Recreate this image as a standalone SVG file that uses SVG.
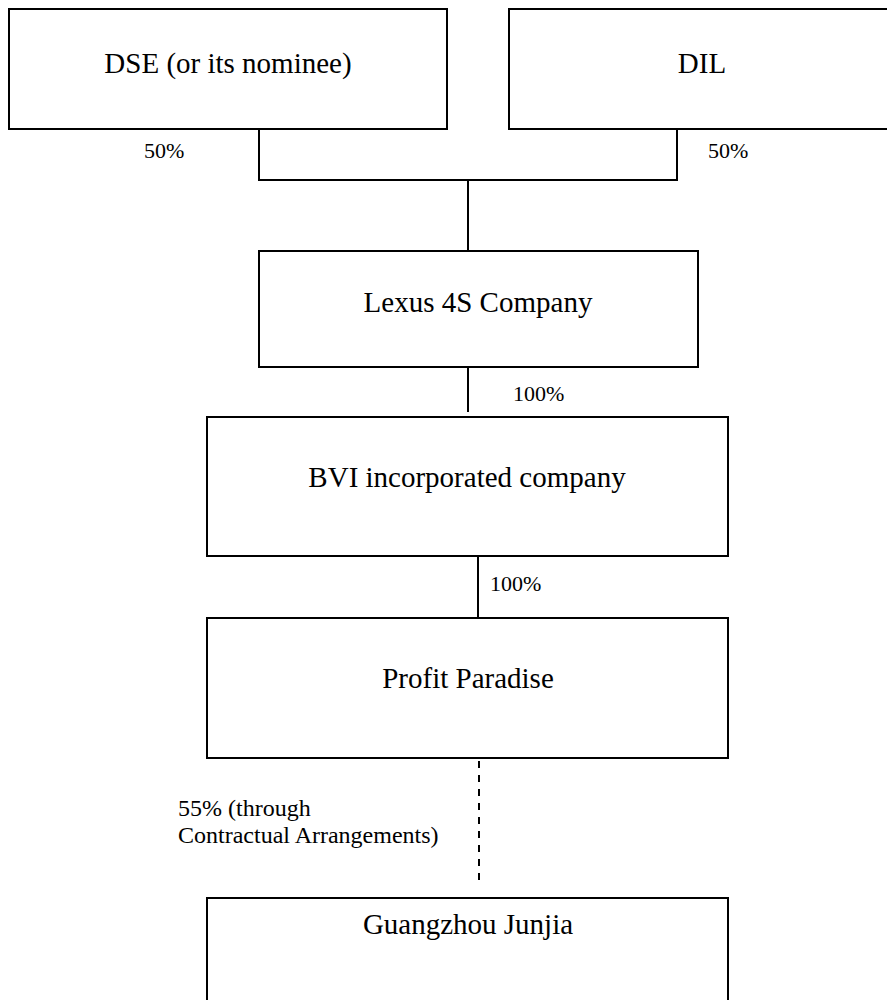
<svg xmlns="http://www.w3.org/2000/svg" width="887" height="1000" viewBox="0 0 887 1000">
<style>
.box{fill:#fff;stroke:#000;stroke-width:2}
.ln{fill:none;stroke:#000;stroke-width:2}
.dash{fill:none;stroke:#000;stroke-width:2;stroke-dasharray:7 7}
.t{font-family:"Liberation Serif","Times New Roman",serif;font-size:29px;fill:#000;text-anchor:middle}
.p{font-family:"Liberation Serif","Times New Roman",serif;font-size:22px;fill:#000}
.c{font-family:"Liberation Serif","Times New Roman",serif;font-size:24px;fill:#000}
</style>
<rect width="887" height="1000" fill="#fff"/>
<g id="connectors">
<polyline class="ln" points="259,129 259,180 677,180 677,129"/>
<line class="ln" x1="468" y1="180" x2="468" y2="251"/>
<line class="ln" x1="468" y1="367" x2="468" y2="412"/>
<line class="ln" x1="478" y1="556" x2="478" y2="618"/>
<line class="dash" x1="479" y1="761" x2="479" y2="881"/>
<text class="p" x="144" y="158">50%</text>
<text class="p" x="708" y="158">50%</text>
<text class="p" x="513" y="401">100%</text>
<text class="p" x="490" y="591">100%</text>
<text class="c" x="178" y="816">55% (through</text>
<text class="c" x="178" y="843">Contractual Arrangements)</text>
</g>
<g id="dse">
<rect class="box" x="9" y="9" width="438" height="120"/>
<text class="t" x="228" y="73">DSE (or its nominee)</text>
</g>
<g id="dil">
<rect class="box" x="509" y="9" width="400" height="120"/>
<text class="t" x="702" y="73">DIL</text>
</g>
<g id="lexus">
<rect class="box" x="259" y="251" width="439" height="116"/>
<text class="t" x="478" y="312">Lexus 4S Company</text>
</g>
<g id="bvi">
<rect class="box" x="207" y="417" width="521" height="139"/>
<text class="t" x="467" y="487">BVI incorporated company</text>
</g>
<g id="profit">
<rect class="box" x="207" y="618" width="521" height="140"/>
<text class="t" x="468" y="688">Profit Paradise</text>
</g>
<g id="guangzhou">
<rect class="box" x="207" y="898" width="521" height="140"/>
<text class="t" x="468" y="934">Guangzhou Junjia</text>
</g>
</svg>
